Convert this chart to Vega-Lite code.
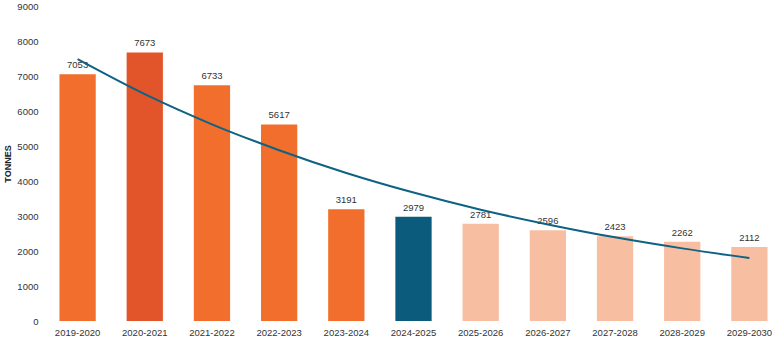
{
  "$schema": "https://vega.github.io/schema/vega-lite/v6.json",
  "autosize": {"type": "none"},
  "width": 739,
  "height": 315,
  "padding": {"left": 44, "top": 6, "right": 0, "bottom": 18},
  "background": "white",
  "config": {
    "view": {"stroke": null},
    "font": "Liberation Sans",
    "axis": {"grid": false, "domain": false, "ticks": false, "labelColor": "#333333", "labelFont": "Liberation Sans"}
  },
  "data": {
    "values": [
      {"year": "2019-2020", "tonnes": 7053, "group": "past", "trend": 7480},
      {"year": "2020-2021", "tonnes": 7673, "group": "peak", "trend": 6480},
      {"year": "2021-2022", "tonnes": 6733, "group": "past", "trend": 5620},
      {"year": "2022-2023", "tonnes": 5617, "group": "past", "trend": 4880},
      {"year": "2023-2024", "tonnes": 3191, "group": "past", "trend": 4230},
      {"year": "2024-2025", "tonnes": 2979, "group": "current", "trend": 3670},
      {"year": "2025-2026", "tonnes": 2781, "group": "projected", "trend": 3180},
      {"year": "2026-2027", "tonnes": 2596, "group": "projected", "trend": 2760},
      {"year": "2027-2028", "tonnes": 2423, "group": "projected", "trend": 2390},
      {"year": "2028-2029", "tonnes": 2262, "group": "projected", "trend": 2075},
      {"year": "2029-2030", "tonnes": 2112, "group": "projected", "trend": 1800}
    ]
  },
  "encoding": {
    "x": {
      "field": "year", "type": "nominal", "sort": null, "title": null,
      "scale": {"paddingInner": 0.46, "paddingOuter": 0.23},
      "axis": {"labelAngle": 0, "labelFontSize": 9.5, "labelPadding": 6}
    }
  },
  "layer": [
    {
      "mark": {"type": "bar"},
      "encoding": {
        "y": {
          "field": "tonnes", "type": "quantitative", "title": "TONNES",
          "scale": {"domain": [0, 9000], "nice": false},
          "axis": {"values": [0,1000,2000,3000,4000,5000,6000,7000,8000,9000], "format": "d", "labelFontSize": 9.5, "labelPadding": 6, "title": "TONNES", "titleFontSize": 9, "titleFontWeight": "bold", "titleColor": "#222222", "titlePadding": 4}
        },
        "color": {
          "field": "group", "type": "nominal", "legend": null,
          "scale": {"domain": ["past", "peak", "current", "projected"], "range": ["#F26E2C", "#E2552A", "#0B5C7C", "#F8BEA1"]}
        }
      }
    },
    {
      "mark": {"type": "text", "dy": -9, "fontSize": 9.5, "color": "#333333"},
      "encoding": {
        "y": {
          "field": "tonnes", "type": "quantitative", "title": "TONNES",
          "scale": {"domain": [0, 9000], "nice": false},
          "axis": {"values": [0,1000,2000,3000,4000,5000,6000,7000,8000,9000], "format": "d", "labelFontSize": 9.5, "labelPadding": 6, "title": "TONNES", "titleFontSize": 9, "titleFontWeight": "bold", "titleColor": "#222222", "titlePadding": 4}
        },
        "text": {"field": "tonnes", "type": "quantitative", "format": "d"}
      }
    },
    {
      "mark": {"type": "line", "interpolate": "monotone", "color": "#0E6283", "strokeWidth": 2},
      "encoding": {
        "y": {
          "field": "trend", "type": "quantitative", "title": "TONNES",
          "scale": {"domain": [0, 9000], "nice": false},
          "axis": {"values": [0,1000,2000,3000,4000,5000,6000,7000,8000,9000], "format": "d", "labelFontSize": 9.5, "labelPadding": 6, "title": "TONNES", "titleFontSize": 9, "titleFontWeight": "bold", "titleColor": "#222222", "titlePadding": 4}
        }
      }
    }
  ]
}
